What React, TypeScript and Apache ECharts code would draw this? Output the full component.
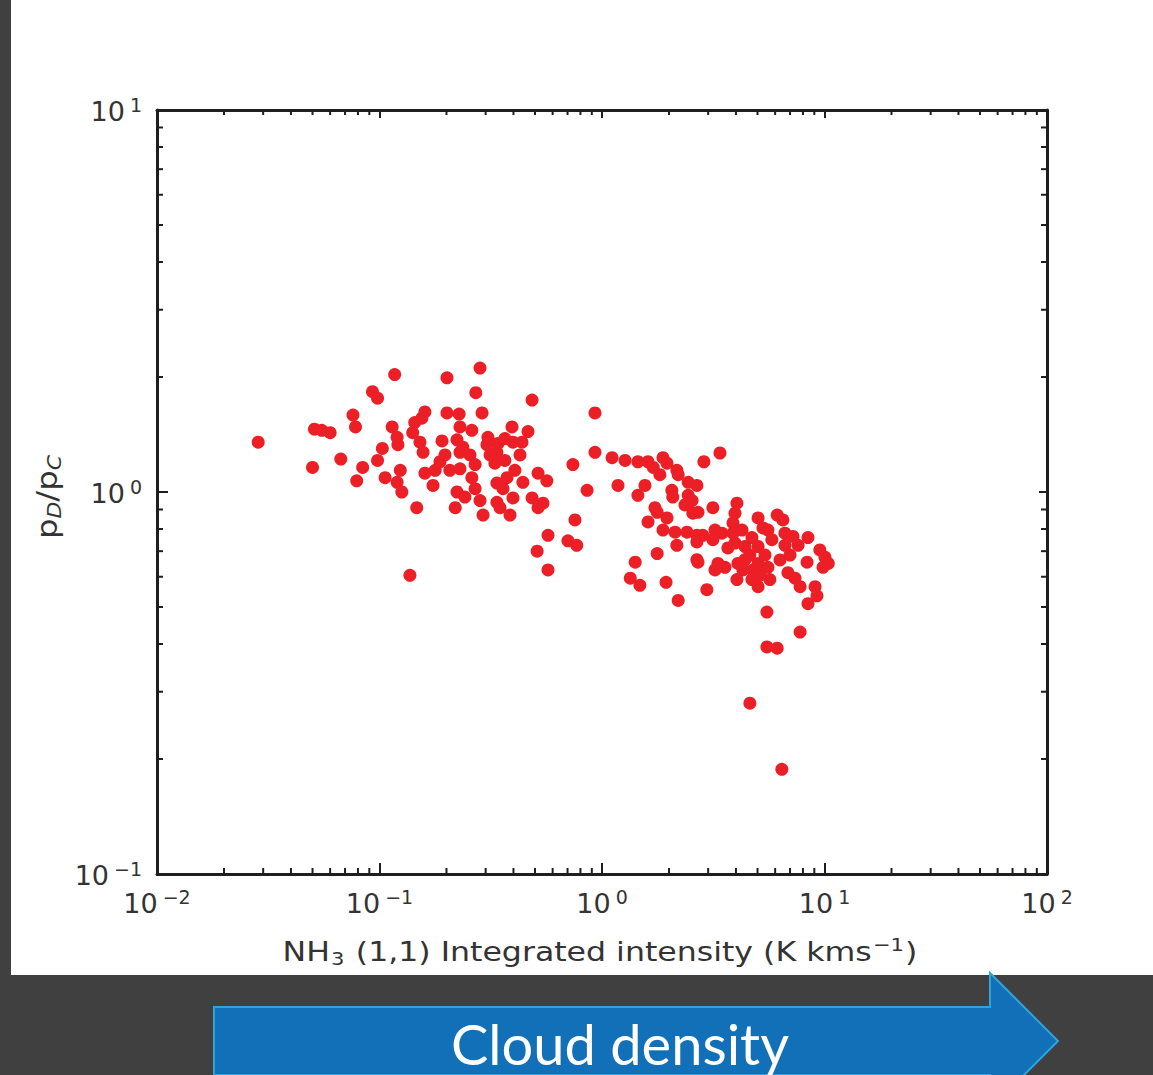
import React, { useEffect, useRef } from "react";
import * as echarts from "echarts";

// NH3 (1,1) integrated intensity (K km/s)
const intensity = [
  0.0285, 0.05, 0.051, 0.055, 0.06, 0.067, 0.076, 0.078, 0.079, 0.084,
  0.093, 0.098, 0.098, 0.103, 0.106, 0.114, 0.117, 0.12, 0.121, 0.12,
  0.126, 0.124, 0.137, 0.141, 0.144, 0.152, 0.155, 0.157, 0.16, 0.16,
  0.174, 0.178, 0.187, 0.191, 0.201, 0.201, 0.147, 0.219, 0.223, 0.223,
  0.228, 0.23, 0.23, 0.23, 0.237, 0.242, 0.26, 0.26, 0.269, 0.269,
  0.271, 0.283, 0.283, 0.289, 0.292, 0.304, 0.307, 0.33, 0.337, 0.337,
  0.337, 0.341, 0.348, 0.359, 0.366, 0.374, 0.386, 0.394, 0.398, 0.398,
  0.406, 0.437, 0.441, 0.465, 0.485, 0.485, 0.511, 0.516, 0.516, 0.543,
  0.565, 0.572, 0.572, 0.703, 0.77, 0.74, 0.756, 0.857, 0.93, 0.93,
  1.11, 1.18, 1.27, 1.34, 1.41, 1.45, 1.45, 1.48, 1.56, 1.61,
  1.61, 1.7, 1.73, 1.77, 1.77, 1.88, 1.88, 1.94, 1.96, 1.96,
  2.06, 2.08, 2.13, 2.17, 2.17, 2.2, 2.2, 2.41, 2.44, 2.44,
  2.54, 2.56, 2.67, 2.67, 2.67, 2.67, 2.7, 2.96, 2.7, 2.84,
  2.87, 3.15, 3.15, 3.22, 3.22, 3.32, 3.39, 3.46, 3.57, 3.88,
  3.88, 3.96, 3.96, 4.04, 4.04, 4.08, 4.3, 4.39, 4.39, 4.72,
  4.72, 4.77, 5.03, 5.03, 5.03, 5.03, 5.29, 5.51, 5.51, 5.57,
  5.57, 5.68, 5.8, 6.13, 6.13, 6.5, 6.64, 6.64, 6.85, 7.22,
  7.37, 7.61, 7.77, 7.77, 8.35, 8.43, 8.43, 9.07, 9.25, 9.53,
  9.85, 10.05, 10.4, 4.62, 6.43,
  0.314, 0.366, 0.255, 0.207, 0.428, 0.197, 4.62, 5.4, 6.31, 7.0,
  5.13, 3.68, 4.26, 1.82, 2.36,
];

// pD / pC ratio
const ratio = [
  1.35, 1.16, 1.46, 1.45, 1.43, 1.22, 1.59, 1.48, 1.07, 1.16,
  1.83, 1.76, 1.21, 1.3, 1.09, 1.48, 2.03, 1.39, 1.33, 1.06,
  1.0, 1.14, 0.605, 1.43, 1.52, 1.35, 1.56, 1.27, 1.62, 1.12,
  1.04, 1.14, 1.2, 1.36, 1.99, 1.61, 0.91, 0.91, 1.37, 1.0,
  1.6, 1.48, 1.27, 1.15, 1.31, 0.97, 1.45, 1.09, 1.18, 1.02,
  1.82, 2.11, 0.95, 1.61, 0.87, 1.33, 1.39, 1.19, 1.27, 1.055,
  0.94, 1.34, 0.91, 1.02, 1.38, 1.09, 0.87, 1.48, 1.35, 0.965,
  1.14, 1.35, 1.06, 1.44, 1.74, 0.965, 0.7, 1.12, 0.91, 0.935,
  1.07, 0.77, 0.625, 0.745, 0.725, 1.18, 0.845, 1.01, 1.61, 1.27,
  1.23, 1.04, 1.21, 0.595, 0.655, 1.2, 0.98, 0.57, 1.04, 1.2,
  0.835, 1.16, 0.91, 0.885, 0.69, 1.23, 0.795, 0.58, 1.19, 0.855,
  1.01, 0.97, 0.785, 1.14, 0.725, 1.11, 0.52, 0.785, 1.06, 0.98,
  0.95, 0.88, 1.04, 0.77, 0.74, 0.665, 0.885, 0.555, 0.655, 0.77,
  1.2, 0.91, 0.75, 0.795, 0.625, 0.65, 1.265, 0.78, 0.635, 0.83,
  0.78, 0.88, 0.735, 0.935, 0.59, 0.65, 0.625, 0.72, 0.665, 0.76,
  0.59, 0.625, 0.855, 0.72, 0.65, 0.565, 0.805, 0.485, 0.393, 0.795,
  0.635, 0.59, 0.75, 0.87, 0.39, 0.845, 0.78, 0.725, 0.615, 0.765,
  0.595, 0.725, 0.565, 0.43, 0.655, 0.76, 0.51, 0.565, 0.535, 0.705,
  0.635, 0.675, 0.65, 0.28, 0.188,
  1.25, 1.21, 1.25, 1.14, 1.25, 1.25, 0.684, 0.684, 0.664, 0.684,
  0.606, 0.714, 0.795, 1.11, 0.925,
];

const xRange = [0.01, 100];
const yRange = [0.1, 10];
const minorMultipliers = [2, 3, 4, 5, 6, 7, 8, 9];
const xDecades = [0.01, 0.1, 1, 10];
const yDecades = [0.1, 1];

const AXIS_COLOR = "#1e1e1e";
const TEXT_COLOR = "#333333";
const FONT = "DejaVu Sans";

export default function App() {
  const ref = useRef<HTMLDivElement>(null);

  useEffect(() => {
    document.body.style.margin = "0";
    const chart = echarts.init(ref.current!, null, { renderer: "svg" });
    const points = intensity.map((x, i) => [x, ratio[i]]);
    const xMinor = xDecades.flatMap((d) => minorMultipliers.map((m) => [m * d, 1]));
    const yMinor = yDecades.flatMap((d) => minorMultipliers.map((m) => [1, m * d]));

    const powLabel = (v: number) => {
      const e = Math.round(Math.log10(v));
      return `{b|10}{s|${e < 0 ? "−" : ""}${Math.abs(e)}}`;
    };
    const labelRich = {
      b: { fontSize: 27, fontFamily: FONT, color: TEXT_COLOR, verticalAlign: "bottom", lineHeight: 30 },
      s: { fontSize: 19, fontFamily: FONT, color: TEXT_COLOR, verticalAlign: "top", lineHeight: 19, padding: [0, 0, 18, 5] },
    };
    const tickStyle = { color: AXIS_COLOR, width: 2 };
    const lineStyle = { color: AXIS_COLOR, width: 3 };

    const option: any = {
      animation: false,
      backgroundColor: "#ffffff",
      grid: { left: 157, top: 110, width: 890, height: 764, containLabel: false },
      xAxis: [
        {
          type: "log", logBase: 10, min: xRange[0], max: xRange[1], position: "bottom",
          axisLine: { show: true, lineStyle },
          axisTick: { show: true, inside: true, length: 11, lineStyle: tickStyle },
          axisLabel: { show: true, margin: 13, formatter: powLabel, rich: labelRich },
          splitLine: { show: false },
        },
        {
          type: "log", logBase: 10, min: xRange[0], max: xRange[1], position: "top",
          axisLine: { show: true, lineStyle },
          axisTick: { show: true, inside: true, length: 8, lineStyle: tickStyle },
          axisLabel: { show: false },
          splitLine: { show: false },
        },
      ],
      yAxis: [
        {
          type: "log", logBase: 10, min: yRange[0], max: yRange[1], position: "left",
          axisLine: { show: true, lineStyle },
          axisTick: { show: true, inside: true, length: 11, lineStyle: tickStyle },
          axisLabel: { show: true, margin: 15, formatter: powLabel, rich: labelRich },
          splitLine: { show: false },
        },
        {
          type: "log", logBase: 10, min: yRange[0], max: yRange[1], position: "right",
          axisLine: { show: true, lineStyle },
          axisTick: { show: true, inside: true, length: 8, lineStyle: tickStyle },
          axisLabel: { show: false },
          splitLine: { show: false },
        },
      ],
      graphic: [
        { type: "rect", silent: true, z: -1, shape: { x: 0, y: 0, width: 11, height: 975 }, style: { fill: "#404040" } },
        { type: "rect", silent: true, z: -1, shape: { x: 0, y: 975, width: 1153, height: 100 }, style: { fill: "#404040" } },
        {
          type: "polygon", silent: true,
          shape: { points: [[214, 1007], [990, 1007], [990, 973], [1058, 1041], [990, 1109], [990, 1075], [214, 1075]] },
          style: { fill: "#1170b8", stroke: "#2ea3dc", lineWidth: 2 },
        },
        {
          type: "text", silent: true, x: 620, y: 1043,
          style: { text: "Cloud density", fill: "#ffffff", font: "56px Lato", align: "center", verticalAlign: "middle" },
        },
        {
          type: "text", silent: true, x: 600, y: 952, scaleX: 1.17,
          style: {
            text: "{t|NH}{sub|3}{t| (1,1) Integrated intensity (K kms}{sup|−1}{t|)}",
            align: "center", verticalAlign: "middle",
            rich: {
              t: { fontSize: 27, fontFamily: FONT, fill: TEXT_COLOR, verticalAlign: "middle", lineHeight: 32 },
              sub: { fontSize: 18, fontFamily: FONT, fill: TEXT_COLOR, verticalAlign: "bottom", lineHeight: 18, padding: [6, 1, 0, 1] },
              sup: { fontSize: 18, fontFamily: FONT, fill: TEXT_COLOR, verticalAlign: "top", lineHeight: 18, padding: [0, 1, 8, 1] },
            },
          },
        },
        {
          type: "text", silent: true, x: 47, y: 497, rotation: Math.PI / 2, scaleX: 1.15,
          style: {
            text: "{t|p}{sub|D}{t|/p}{sub|C}",
            align: "center", verticalAlign: "middle",
            rich: {
              t: { fontSize: 28, fontFamily: FONT, fill: TEXT_COLOR, verticalAlign: "middle", lineHeight: 34 },
              sub: { fontSize: 19, fontFamily: FONT, fontStyle: "italic", fill: TEXT_COLOR, verticalAlign: "bottom", lineHeight: 19, padding: [6, 0, 0, 0] },
            },
          },
        },
      ],
      series: [
        {
          type: "custom", coordinateSystem: "cartesian2d", xAxisIndex: 0, yAxisIndex: 0,
          silent: true, clip: false, data: xMinor,
          renderItem: (params: any, api: any) => {
            const p = api.coord([api.value(0), api.value(1)]);
            const cs = params.coordSys;
            const top = cs.y, bottom = cs.y + cs.height;
            return {
              type: "group",
              children: [
                { type: "line", shape: { x1: p[0], y1: bottom, x2: p[0], y2: bottom - 6 }, style: { stroke: AXIS_COLOR, lineWidth: 2 } },
                { type: "line", shape: { x1: p[0], y1: top, x2: p[0], y2: top + 5 }, style: { stroke: AXIS_COLOR, lineWidth: 2 } },
              ],
            };
          },
        },
        {
          type: "custom", coordinateSystem: "cartesian2d", xAxisIndex: 0, yAxisIndex: 0,
          silent: true, clip: false, data: yMinor,
          renderItem: (params: any, api: any) => {
            const p = api.coord([api.value(0), api.value(1)]);
            const cs = params.coordSys;
            const left = cs.x, right = cs.x + cs.width;
            return {
              type: "group",
              children: [
                { type: "line", shape: { x1: left, y1: p[1], x2: left + 6, y2: p[1] }, style: { stroke: AXIS_COLOR, lineWidth: 2 } },
                { type: "line", shape: { x1: right, y1: p[1], x2: right - 6, y2: p[1] }, style: { stroke: AXIS_COLOR, lineWidth: 2 } },
              ],
            };
          },
        },
        {
          type: "scatter", xAxisIndex: 0, yAxisIndex: 0, data: points,
          symbol: "circle", symbolSize: 13,
          itemStyle: { color: "#ec1f26", opacity: 1 },
          z: 3,
        },
      ],
    };
    chart.setOption(option);
    return () => chart.dispose();
  }, []);

  return <div ref={ref} style={{ position: "absolute", left: 0, top: 0, width: 1153, height: 1075 }} />;
}
